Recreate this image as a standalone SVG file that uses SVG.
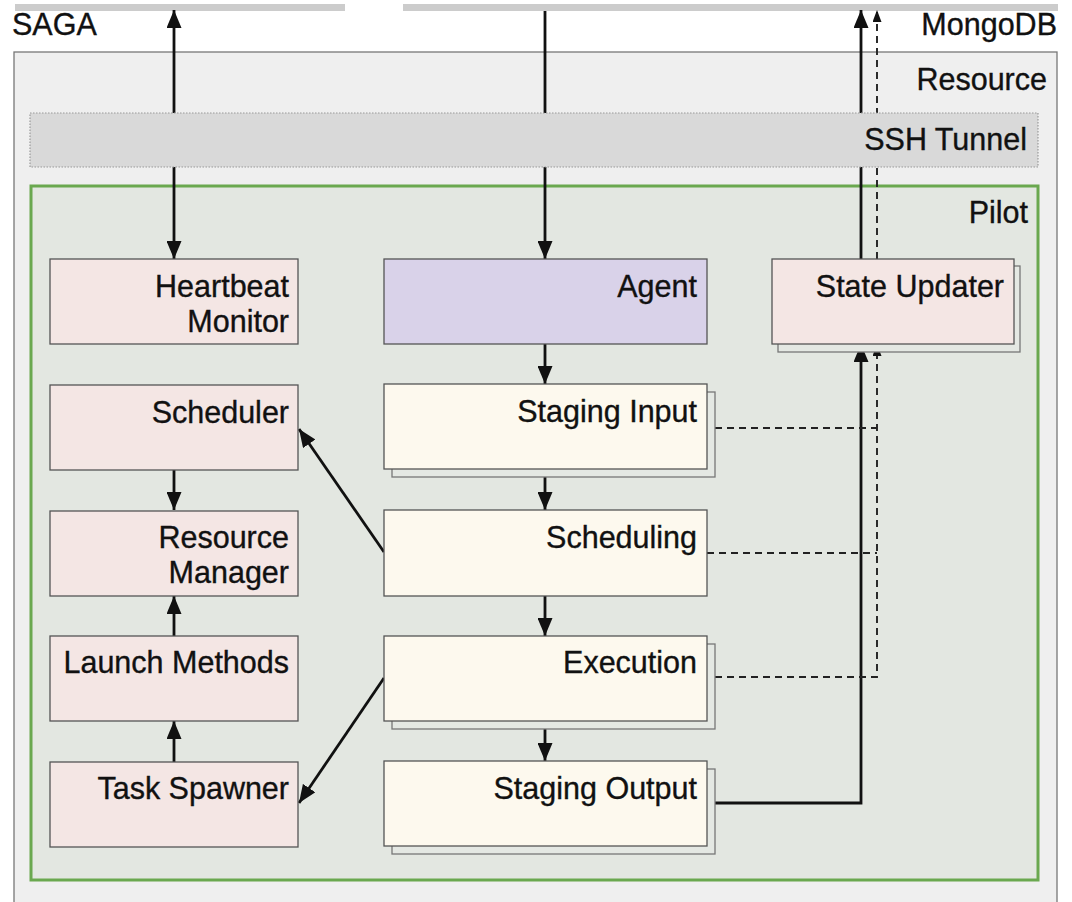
<svg xmlns="http://www.w3.org/2000/svg" width="1072" height="902" viewBox="0 0 1072 902">
  <style>
    .lbl { font-family: "Liberation Sans", Arial, Helvetica, sans-serif; font-size: 30.5px; fill: #111; stroke: #111; stroke-width: 0.35; text-anchor: end; }
    .box { stroke: #555; stroke-width: 1.3; }
    .comp { fill: #f4e6e4; }
    .stage { fill: #fdf9ee; }
    .agent { fill: #d9d2e9; }
    .shadow { fill: #e4e8e3; stroke: #777; stroke-width: 1.3; }
    .flow { fill: none; stroke: #111; stroke-width: 2.8; }
    .state { fill: none; stroke: #222; stroke-width: 1.9; stroke-dasharray: 7 5; }
  </style>
  <defs>
    <marker id="arrowSolid" viewBox="0 0 18 15" refX="18" refY="7.5" markerUnits="userSpaceOnUse" markerWidth="18" markerHeight="15" orient="auto-start-reverse">
      <path d="M0,0 L18,7.5 L0,15 Z" fill="#111"/>
    </marker>
    <marker id="arrowSmall" viewBox="0 0 12 9" refX="12" refY="4.5" markerUnits="userSpaceOnUse" markerWidth="12" markerHeight="9" orient="auto">
      <path d="M0,0 L12,4.5 L0,9 Z" fill="#111"/>
    </marker>
  </defs>

  <rect width="1072" height="902" fill="#ffffff"/>

  <!-- external services -->
  <g id="saga">
    <rect x="15" y="4" width="330" height="7" fill="#cccccc"/>
    <text x="12" y="35" class="lbl" style="text-anchor:start">SAGA</text>
  </g>
  <g id="mongodb">
    <rect x="403" y="4" width="655" height="7" fill="#cccccc"/>
    <text x="1057" y="35" class="lbl">MongoDB</text>
  </g>

  <!-- resource and pilot containers -->
  <g id="resource">
    <rect x="14" y="52" width="1043" height="870" fill="#efefef" stroke="#777" stroke-width="1.3"/>
    <text x="1047" y="90" class="lbl">Resource</text>
  </g>
  <g id="pilot">
    <rect x="31" y="186" width="1007" height="694" fill="#e3e7e1" stroke="#6aa84f" stroke-width="3"/>
    <text x="1028" y="223" class="lbl">Pilot</text>
  </g>

  <!-- connectors -->
  <g id="connectors">
    <line x1="174" y1="10" x2="174" y2="259" class="flow" marker-start="url(#arrowSolid)" marker-end="url(#arrowSolid)"/>
    <line x1="545" y1="11" x2="545" y2="259" class="flow" marker-end="url(#arrowSolid)"/>
    <line x1="861" y1="259" x2="861" y2="10" class="flow" marker-end="url(#arrowSolid)"/>
    <line x1="877" y1="259" x2="877" y2="10" class="state" marker-end="url(#arrowSmall)"/>

    <line x1="545" y1="344" x2="545" y2="384" class="flow" marker-end="url(#arrowSolid)"/>
    <line x1="545" y1="477" x2="545" y2="510" class="flow" marker-end="url(#arrowSolid)"/>
    <line x1="545" y1="596" x2="545" y2="636" class="flow" marker-end="url(#arrowSolid)"/>
    <line x1="545" y1="729" x2="545" y2="761" class="flow" marker-end="url(#arrowSolid)"/>

    <line x1="174" y1="470" x2="174" y2="510" class="flow" marker-end="url(#arrowSolid)"/>
    <line x1="174" y1="636" x2="174" y2="596" class="flow" marker-end="url(#arrowSolid)"/>
    <line x1="174" y1="762" x2="174" y2="721" class="flow" marker-end="url(#arrowSolid)"/>

    <line x1="384" y1="552" x2="299" y2="429" class="flow" marker-end="url(#arrowSolid)"/>
    <line x1="384" y1="678" x2="299" y2="803" class="flow" marker-end="url(#arrowSolid)"/>

    <path d="M715,803 L861,803 L861,344" class="flow" marker-end="url(#arrowSolid)"/>
    <path d="M715,428 L877,428" class="state"/>
    <path d="M707,553 L877,553" class="state"/>
    <path d="M715,677 L877,677 L877,344" class="state" marker-end="url(#arrowSmall)"/>
  </g>

  <!-- tunnel drawn over the connector lines -->
  <g id="ssh-tunnel">
    <rect x="30" y="113" width="1008" height="54" fill="#d9d9d9" stroke="#999" stroke-width="1.2" stroke-dasharray="1.5 1.5"/>
    <text x="1027" y="150" class="lbl">SSH Tunnel</text>
  </g>

  <!-- left column components -->
  <g id="heartbeat-monitor">
    <rect x="50" y="259" width="248" height="85" class="box comp"/>
    <text x="289" y="297" class="lbl">Heartbeat</text>
    <text x="289" y="332" class="lbl">Monitor</text>
  </g>
  <g id="scheduler">
    <rect x="50" y="385" width="248" height="85" class="box comp"/>
    <text x="289" y="423" class="lbl">Scheduler</text>
  </g>
  <g id="resource-manager">
    <rect x="50" y="511" width="248" height="85" class="box comp"/>
    <text x="289" y="548" class="lbl">Resource</text>
    <text x="289" y="583" class="lbl">Manager</text>
  </g>
  <g id="launch-methods">
    <rect x="50" y="636" width="248" height="85" class="box comp"/>
    <text x="289" y="673" class="lbl">Launch Methods</text>
  </g>
  <g id="task-spawner">
    <rect x="50" y="762" width="248" height="85" class="box comp"/>
    <text x="289" y="799" class="lbl">Task Spawner</text>
  </g>

  <!-- middle column pipeline -->
  <g id="agent">
    <rect x="384" y="259" width="323" height="85" class="box agent"/>
    <text x="697" y="297" class="lbl">Agent</text>
  </g>
  <g id="staging-input">
    <rect x="392" y="392" width="323" height="85" class="shadow"/>
    <rect x="384" y="384" width="323" height="85" class="box stage"/>
    <text x="697" y="422" class="lbl">Staging Input</text>
  </g>
  <g id="scheduling">
    <rect x="384" y="510" width="323" height="86" class="box stage"/>
    <text x="697" y="548" class="lbl">Scheduling</text>
  </g>
  <g id="execution">
    <rect x="392" y="644" width="323" height="85" class="shadow"/>
    <rect x="384" y="636" width="323" height="85" class="box stage"/>
    <text x="697" y="673" class="lbl">Execution</text>
  </g>
  <g id="staging-output">
    <rect x="392" y="769" width="323" height="85" class="shadow"/>
    <rect x="384" y="761" width="323" height="85" class="box stage"/>
    <text x="697" y="799" class="lbl">Staging Output</text>
  </g>

  <!-- right column -->
  <g id="state-updater">
    <rect x="778" y="266" width="242" height="86" class="shadow"/>
    <rect x="772" y="259" width="242" height="85" class="box comp"/>
    <text x="1004" y="297" class="lbl">State Updater</text>
  </g>
</svg>
